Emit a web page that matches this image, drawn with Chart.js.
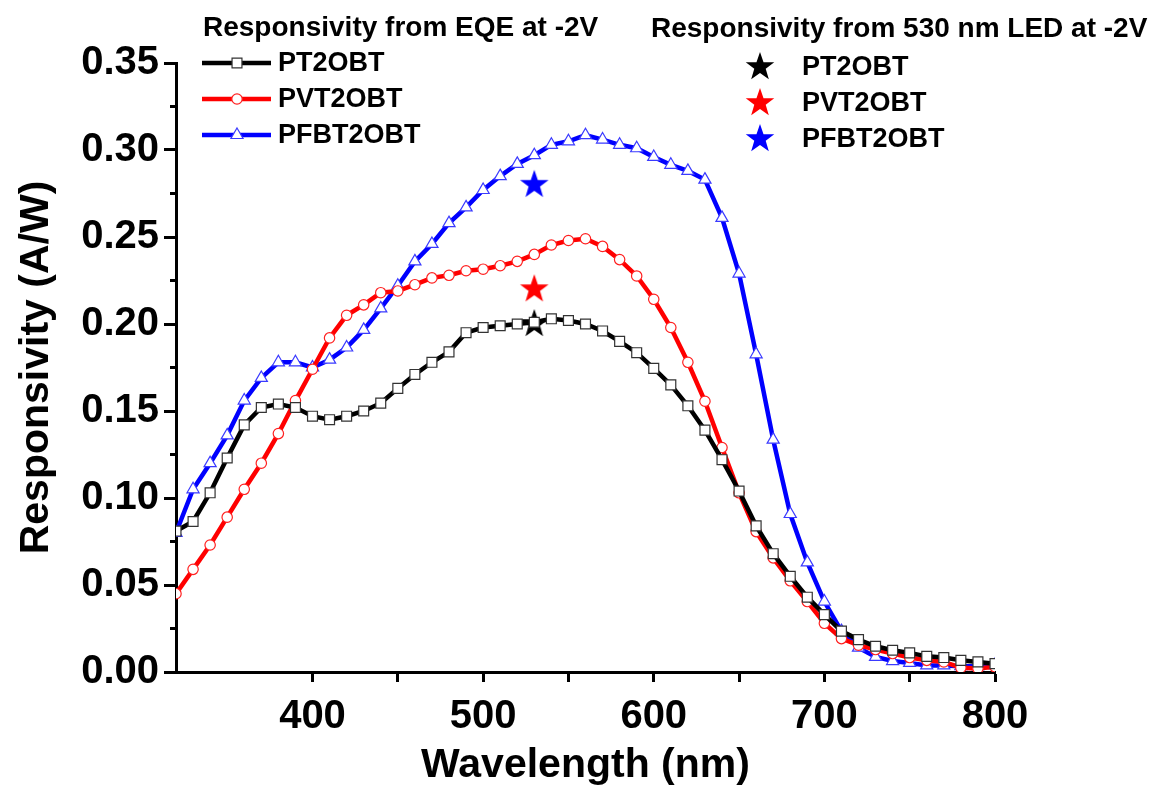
<!DOCTYPE html>
<html>
<head>
<meta charset="utf-8">
<script src="https://cdn.jsdelivr.net/npm/chart.js@4.4.1/dist/chart.umd.min.js"></script>
<style>
  html, body { margin: 0; padding: 0; background: #fff; }
</style>
</head>
<body>
<canvas id="myChart" width="1153" height="790"></canvas>
<script>
// wavelength grid (nm), EQE-derived responsivity (A/W)
const wavelengths = [320, 330, 340, 350, 360, 370, 380, 390, 400, 410, 420, 430, 440, 450, 460, 470, 480, 490,
  500, 510, 520, 530, 540, 550, 560, 570, 580, 590, 600, 610, 620, 630, 640, 650, 660, 670, 680, 690,
  700, 710, 720, 730, 740, 750, 760, 770, 780, 790, 800];
const pt2obt = [0.081, 0.0865, 0.103, 0.123, 0.142, 0.152, 0.154, 0.152, 0.147, 0.145, 0.147, 0.150, 0.1545, 0.163, 0.171, 0.178, 0.184, 0.195,
  0.198, 0.199, 0.200, 0.201, 0.203, 0.202, 0.200, 0.196, 0.190, 0.1835, 0.1745, 0.165, 0.153, 0.139, 0.122, 0.104, 0.084, 0.068, 0.055, 0.043,
  0.033, 0.0235, 0.0186, 0.0148, 0.0125, 0.011, 0.009, 0.0083, 0.0067, 0.0058, 0.0048];
const pvt2obt = [0.045, 0.059, 0.073, 0.089, 0.105, 0.120, 0.137, 0.156, 0.174, 0.192, 0.205, 0.211, 0.218, 0.219, 0.2226, 0.2265, 0.228, 0.2306,
  0.2315, 0.2335, 0.236, 0.240, 0.2454, 0.248, 0.249, 0.2446, 0.237, 0.2276, 0.2142, 0.198, 0.178, 0.1556, 0.129, 0.103, 0.0807, 0.0656, 0.0524, 0.0405,
  0.028, 0.0192, 0.0154, 0.0129, 0.0106, 0.0083, 0.0067, 0.0058, 0.0025, 0.002, 0.003];
const pfbt2obt = [0.080, 0.105, 0.120, 0.136, 0.156, 0.169, 0.178, 0.178, 0.175, 0.1795, 0.1865, 0.1966, 0.209, 0.222, 0.236, 0.246, 0.258, 0.267,
  0.277, 0.285, 0.292, 0.297, 0.303, 0.305, 0.3085, 0.306, 0.303, 0.301, 0.296, 0.2915, 0.288, 0.283, 0.261, 0.229, 0.1826, 0.1335, 0.0908, 0.063,
  0.0405, 0.0235, 0.014, 0.0087, 0.0063, 0.0052, 0.0038, 0.0038, 0.0033, 0.0033, 0.004];

// single LED measurement at 530 nm
const ledWavelength = 530;
const ledPT2OBT = 0.20;
const ledPVT2OBT = 0.22;
const ledPFBT2OBT = 0.28;

const seriesNames = ['PT2OBT', 'PVT2OBT', 'PFBT2OBT'];
const FONT = "'Liberation Sans', Arial, sans-serif";

function makeStar(color, r) {
  const c = document.createElement('canvas');
  const s = Math.ceil(r * 2 + 2);
  c.width = s; c.height = s;
  const g = c.getContext('2d');
  g.fillStyle = color;
  g.beginPath();
  for (let i = 0; i < 10; i++) {
    const rad = i % 2 ? r * 0.4 : r;
    const a = -Math.PI / 2 + i * Math.PI / 5;
    g.lineTo(s / 2 + rad * Math.cos(a), s / 2 + rad * Math.sin(a));
  }
  g.closePath();
  g.fill();
  return c;
}

function toXY(xs, ys) {
  return xs.map((x, i) => ({x: x, y: ys[i]}));
}

const lineSets = [
  {label: seriesNames[0], data: toXY(wavelengths, pt2obt), borderColor: '#000000', pointBorderColor: '#333333', pointStyle: 'rect', pointRadius: 7},
  {label: seriesNames[1], data: toXY(wavelengths, pvt2obt), borderColor: '#ff0000', pointBorderColor: '#ff2020', pointStyle: 'circle', pointRadius: 5.2},
  {label: seriesNames[2], data: toXY(wavelengths, pfbt2obt), borderColor: '#0000ff', pointBorderColor: '#3a3aff', pointStyle: 'triangle', pointRadius: 7}
];
lineSets.forEach(d => {
  d.borderWidth = 4.5;
  d.pointBackgroundColor = '#ffffff';
  d.pointBorderWidth = 1.2;
  d.tension = 0;
  d.showLine = true;
});

const starColors = ['#000000', '#ff0000', '#0000ff'];
const starData = [ledPT2OBT, ledPVT2OBT, ledPFBT2OBT];
const starSets = starData.map((v, i) => ({
  label: seriesNames[i] + ' LED',
  data: [{x: ledWavelength, y: v}],
  showLine: false,
  pointStyle: makeStar(starColors[i], 15),
  pointRadius: 15
}));

// two legend blocks drawn beside the plot
const legendPlugin = {
  id: 'twoLegends',
  afterDraw(chart) {
    const ctx = chart.ctx;
    ctx.save();
    ctx.fillStyle = '#000';
    ctx.textBaseline = 'alphabetic';
    ctx.font = 'bold 28px ' + FONT;
    ctx.fillText('Responsivity from EQE at -2V', 203, 36);
    ctx.fillText('Responsivity from 530 nm LED at -2V', 651, 37);

    const rowsA = [63, 99, 135];
    lineSets.forEach((d, i) => {
      const y = rowsA[i];
      ctx.strokeStyle = d.borderColor;
      ctx.lineWidth = 4.5;
      ctx.beginPath();
      ctx.moveTo(202, y);
      ctx.lineTo(271, y);
      ctx.stroke();
      ctx.fillStyle = '#ffffff';
      ctx.strokeStyle = d.pointBorderColor;
      ctx.lineWidth = 1.2;
      Chart.helpers.drawPoint(ctx, {pointStyle: d.pointStyle, radius: d.pointRadius, rotation: 0, borderWidth: 1.2}, 237, y);
      ctx.fillStyle = '#000';
      ctx.textBaseline = 'middle';
      ctx.font = 'bold 27px ' + FONT;
      ctx.fillText(d.label, 278, y + 1);
    });

    const rowsB = [67, 103, 139];
    starSets.forEach((d, i) => {
      const y = rowsB[i];
      const img = d.pointStyle;
      ctx.drawImage(img, 760 - img.width / 2, y - img.height / 2);
      ctx.fillStyle = '#000';
      ctx.textBaseline = 'middle';
      ctx.font = 'bold 27px ' + FONT;
      ctx.fillText(seriesNames[i], 802, y + 1);
    });
    ctx.restore();
  }
};

const isMajorY = (v) => Math.round(v * 1000) % 50 === 0;

const ctx = document.getElementById('myChart');
new Chart(ctx, {
  type: 'scatter',
  data: {datasets: lineSets.concat(starSets)},
  options: {
    responsive: false,
    animation: false,
    layout: {padding: {left: 0, top: 63, right: 158, bottom: 0}},
    plugins: {legend: {display: false}, tooltip: {enabled: false}},
    scales: {
      x: {
        type: 'linear',
        position: 'bottom',
        min: 320,
        max: 800,
        border: {display: true, color: '#000', width: 3},
        grid: {display: true, drawOnChartArea: false, drawTicks: true, tickLength: 10, tickColor: '#000', tickWidth: 3},
        afterBuildTicks: (axis) => { axis.ticks = axis.ticks.filter(t => t.value % 50 === 0); },
        ticks: {
          stepSize: 50, autoSkip: false, maxRotation: 0, color: '#000', padding: 11,
          font: {family: FONT, weight: 'bold', size: 40},
          callback: (v) => (v % 100 === 0 ? String(v) : '')
        },
        title: {display: true, text: 'Wavelength (nm)', color: '#000', padding: {top: 0, bottom: 0},
          font: {family: FONT, weight: 'bold', size: 41, lineHeight: 1.2}},
        afterFit: (s) => { s.height = 790 - 672; }
      },
      y: {
        min: 0,
        max: 0.35,
        border: {display: true, color: '#000', width: 3},
        grid: {
          display: true, drawOnChartArea: false, drawTicks: true, tickLength: 12, tickColor: '#000', tickWidth: 3,
          tickBorderDash: (c) => (c.tick && !isMajorY(c.tick.value) ? [0, 6, 20, 0] : [])
        },
        ticks: {
          stepSize: 0.025, autoSkip: false, color: '#000', padding: 5,
          font: {family: FONT, weight: 'bold', size: 40},
          callback: (v) => (isMajorY(v) ? v.toFixed(2) : '')
        },
        title: {display: true, text: 'Responsivity (A/W)', color: '#000', padding: {top: 12, bottom: 0},
          font: {family: FONT, weight: 'bold', size: 41, lineHeight: 1.2}},
        afterFit: (s) => { s.width = 176; }
      }
    }
  },
  plugins: [legendPlugin]
});
</script>
</body>
</html>
